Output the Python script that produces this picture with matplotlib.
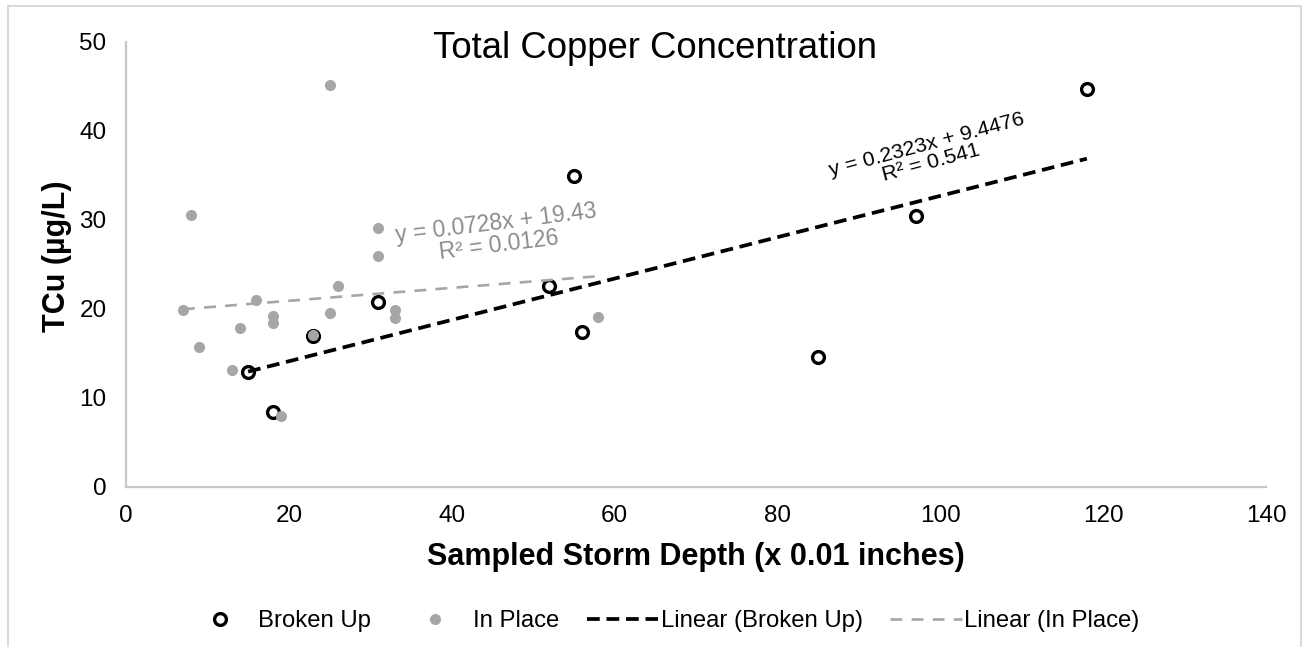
import matplotlib
matplotlib.use("Agg")
import matplotlib.pyplot as plt
import numpy as np
from matplotlib.lines import Line2D
from matplotlib.patches import Rectangle

plt.rcParams['font.family'] = ['Liberation Sans', 'DejaVu Sans']

# ---- data ----
broken_x = [15, 18, 23, 31, 52, 55, 56, 85, 97, 118]
broken_y = [12.9, 8.4, 16.9, 20.7, 22.6, 34.9, 17.4, 14.6, 30.4, 44.7]

inplace_x = [25, 8, 31, 31, 26, 16, 7, 18, 18, 25, 33, 33, 14, 9, 13, 23, 19, 58]
inplace_y = [45.1, 30.5, 29.1, 25.9, 22.5, 21.0, 19.9, 19.2, 18.4, 19.5, 19.8, 19.0,
             17.8, 15.7, 13.1, 17.0, 8.0, 19.1]

broken_fit = (0.2323, 9.4476)   # slope, intercept
inplace_fit = (0.0728, 19.43)
broken_eq = "y = 0.2323x + 9.4476\nR² = 0.541"
inplace_eq = "y = 0.0728x + 19.43\nR² = 0.0126"

x_ticks = [0, 20, 40, 60, 80, 100, 120, 140]
y_ticks = [0, 10, 20, 30, 40, 50]

BLACK = '#000000'
GREY = '#a6a6a6'

fig = plt.figure(figsize=(13.02, 6.47), dpi=100)
ax = fig.add_axes([126/1302, 1-486.7/647, (1266-126)/1302, (486.7-41.7)/647])

ax.plot(broken_x, broken_y, linestyle='none', marker='o', markersize=8.5,
        markerfacecolor='none', markeredgecolor=BLACK, markeredgewidth=2.4, zorder=3)
ax.plot(inplace_x, inplace_y, linestyle='none', marker='o', markersize=8,
        markerfacecolor=GREY, markeredgecolor=GREY, markeredgewidth=0, zorder=4)

bx = np.array([min(broken_x), max(broken_x)])
ax.plot(bx, broken_fit[0]*bx + broken_fit[1], color=BLACK, lw=2.7,
        dashes=(3.4, 1.8), zorder=5)
ix = np.array([min(inplace_x), max(inplace_x)])
ax.plot(ix, inplace_fit[0]*ix + inplace_fit[1], color=GREY, lw=1.9,
        dashes=(4.5, 3.5), zorder=5)

ax.text(98.6, 37.4, broken_eq, ha='center', va='center', rotation=15,
        fontsize=15.4, color=BLACK, linespacing=0.95, rotation_mode='anchor',
        multialignment='center')
ax.text(45.6, 28.4, inplace_eq, ha='center', va='center', rotation=7,
        fontsize=16.5, color='#8c8c8c', linespacing=0.95, rotation_mode='anchor',
        multialignment='center')

ax.set_xlim(0, 140)
ax.set_ylim(0, 50)
ax.set_xticks(x_ticks)
ax.set_yticks(y_ticks)
ax.tick_params(length=0, labelsize=17.5, colors='#404040', labelcolor='#000000')
ax.tick_params(axis='x', pad=13)
ax.tick_params(axis='y', pad=14)
for s in ['top', 'right']:
    ax.spines[s].set_visible(False)
for s in ['left', 'bottom']:
    ax.spines[s].set_color('#c8c8c8')
    ax.spines[s].set_linewidth(1.6)

ax.set_xlabel('Sampled Storm Depth (x 0.01 inches)', fontsize=22, fontweight='bold')
ax.set_ylabel('TCu (µg/L)', fontsize=22, fontweight='bold')
ax.xaxis.set_label_coords(0.5, -(557-486.7)/445, transform=ax.transAxes)
ax.xaxis.label.set_va('center')
ax.yaxis.set_label_coords(-(126-57)/1140, (486.7-256)/445, transform=ax.transAxes)
ax.yaxis.label.set_va('center')

fig.text(655/1302, 1-49/647, 'Total Copper Concentration', ha='center', va='center', fontsize=26.3)

handles = [
    Line2D([], [], linestyle='none', marker='o', markersize=8.5, markerfacecolor='none',
           markeredgecolor=BLACK, markeredgewidth=2.4),
    Line2D([], [], linestyle='none', marker='o', markersize=8, markerfacecolor=GREY,
           markeredgewidth=0),
    Line2D([], [], color=BLACK, lw=2.7, dashes=(3.4, 1.8)),
    Line2D([], [], color=GREY, lw=1.9, dashes=(4.5, 3.5)),
]
labels = ['Broken Up', 'In Place', 'Linear (Broken Up)', 'Linear (In Place)']
fig.legend(handles, labels, loc='center', bbox_to_anchor=(662/1302, 1-621/647), ncol=4,
           frameon=False, fontsize=17.2, handlelength=3.0, handletextpad=0.1,
           columnspacing=1.15)

fig.patches.append(Rectangle((8/1302, -0.05), (1300.7-8)/1302, 1.05-6/647,
                             transform=fig.transFigure, fill=False,
                             edgecolor='#d9d9d9', linewidth=1.5))

fig.savefig('out.png', dpi=100)
